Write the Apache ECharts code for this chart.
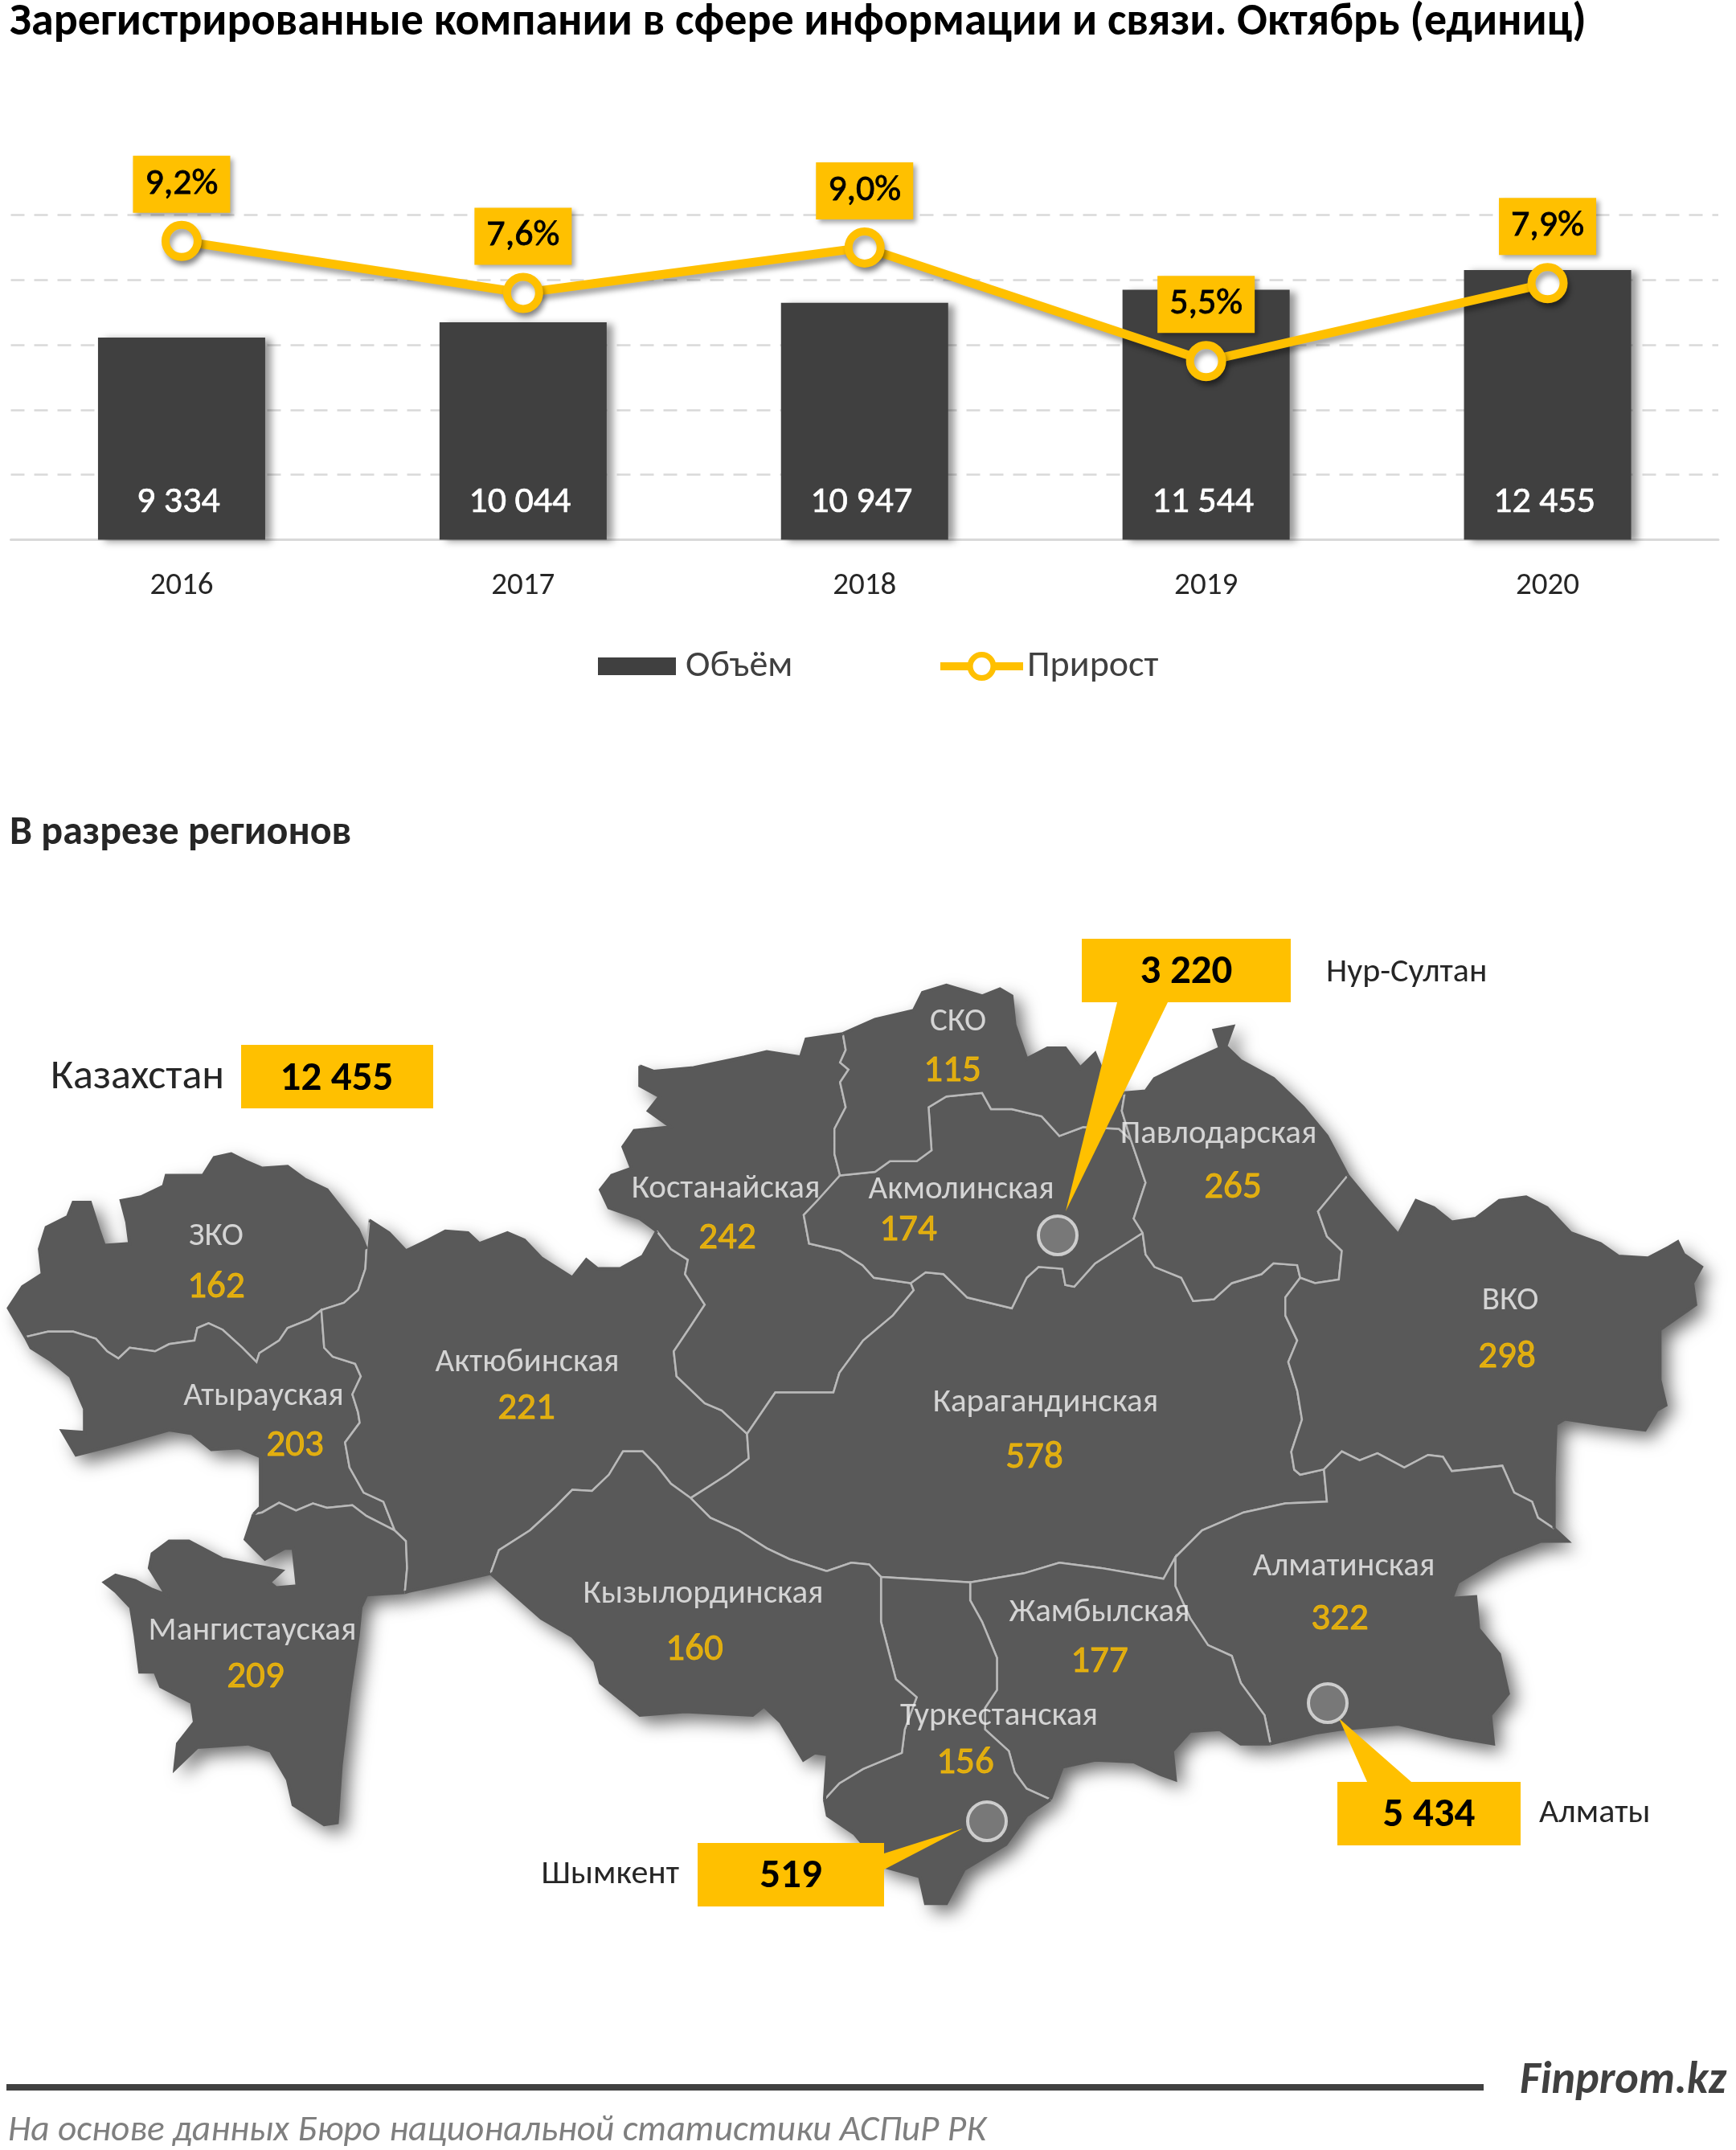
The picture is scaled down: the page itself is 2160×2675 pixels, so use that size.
<!DOCTYPE html>
<html><head><meta charset="utf-8">
<style>html,body{margin:0;padding:0;background:#fff}#c{width:2160px;height:2675px}</style>
<script src="https://cdn.jsdelivr.net/npm/echarts@6/dist/echarts.min.js"></script>
</head><body><div id="c"></div>
<script>
// ---------- data ----------
const years = ['2016','2017','2018','2019','2020'];
const volumes = [9334,10044,10947,11544,12455];
const growth = [9.2,7.6,9.0,5.5,7.9];
const regionNames = ['ЗКО','Костанайская','Актюбинская','Атырауская','Мангистауская','Кызылординская','СКО','Акмолинская','Павлодарская','ВКО','Карагандинская','Алматинская','Жамбылская','Туркестанская'];
const regionValues = [162,242,221,203,209,160,115,174,265,298,578,322,177,156];
const cityNames = ['Нур-Султан','Алматы','Шымкент'];
const cityValues = [3220,5434,519];
const totalName = 'Казахстан';
const totalValue = 12455;

// ---------- label layout (page pixels) ----------
const namePos = [[269,1537],[903,1478],[656,1694],[328,1736],[314,2028],[875,1982],[1192,1270],[1196,1479],[1516,1410],[1879,1617],[1301,1744],[1672,1948],[1368,2005],[1243,2134]];
const valuePos = [[269,1598],[905,1537],[655,1749],[367,1795],[318,2083],[864,2049],[1185,1329],[1130,1527],[1534,1474],[1875,1685],[1287,1810],[1667,2011],[1368,2064],[1201,2190]];
const cityPos = [[1316,1537],[1652,2119],[1228,2266]];

const z3 = a => a.map(p => [p[0]/1.4255, 1150+p[1]/2.24]);
const z5 = a => a.map(p => [p[0]/1.4255, 1750+p[1]/2.24]);
const z4 = a => a.map(p => [1000+p[0]/1.3517, 1150+p[1]/2.24]);
const z6 = a => a.map(p => [1000+p[0]/1.3517, 1750+p[1]/2.24]);
const rev = a => a.slice().reverse();

const C_zko = z3([[45,1150],[15,1070],[40,1010],[75,975],[70,905],[82,845],[120,815],[130,775],[160,775],[175,850],[185,895],[230,890],[225,830],[215,770],[250,760],[290,730],[295,700],[360,700],[380,650],[410,640],[435,660],[465,680],[510,675],[540,710],[580,740],[605,790],[635,850],[650,905]]);
const B_zko_aktobe = z3([[650,905],[648,960],[635,1020],[610,1055],[570,1075]]);
const B_zko_atyrau = z3([[570,1075],[550,1100],[510,1125],[495,1160],[460,1195],[455,1220],[430,1180],[395,1130],[370,1112],[350,1125],[345,1160],[300,1170],[275,1190],[230,1180],[210,1210],[190,1190],[170,1155],[130,1135],[85,1135],[45,1150]]);
const B_atyrau_aktobe = z3([[570,1075],[575,1180],[590,1205],[630,1225],[640,1260],[625,1310],[635,1360],[638,1389],[612,1444],[620,1514],[645,1584],[680,1609],[700,1689]]);
const B_atyrau_mang = z5([[700,345],[650,305],[625,275],[580,282],[555,270],[525,290],[495,268],[465,295],[450,300]]);
const C_atyrau = z5([[450,300],[462,280],[462,140],[425,115],[375,120],[340,75],[300,65],[210,105],[135,135],[110,68],[150,72]]).concat(z3([[150,1350],[125,1260],[90,1215],[55,1180],[45,1150]]));
const B_mang_aktobe = z5([[700,345],[720,375],[722,450],[718,518]]);
const C_mang = z5([[718,518],[650,525],[640,560],[635,640],[620,800],[605,1000],[598,1160],[575,1165],[520,1110],[510,1040],[480,960],[440,940],[350,950],[310,1010],[315,940],[345,880],[340,825],[285,780],[275,740],[248,740],[240,640],[232,560],[205,515],[185,490],[205,470],[240,485],[270,510],[295,525],[265,450],[270,410],[300,375],[335,375],[395,425],[465,447],[500,458],[478,490],[490,505],[527,500],[520,395],[505,395],[470,425],[435,370],[450,300]]);
const C_aktobe_top = z3([[655,825],[690,860],[720,910],[760,880],[790,855],[830,860],[850,890],[900,860],[930,880],[960,930],[1015,985],[1040,935],[1060,960],[1100,960],[1140,925],[1165,855]]);
const B_aktobe_kost = z3([[1165,855],[1190,905],[1220,935],[1215,975],[1250,1060],[1225,1120],[1195,1190],[1200,1260],[1250,1335],[1280,1355],[1325,1420]]);
const B_aktobe_kar = z3([[1325,1420],[1328,1489],[1290,1534],[1225,1599]]);
const B_aktobe_kyz = z5([[1225,255],[1190,215],[1165,165],[1140,125],[1105,125],[1080,190],[1050,235],[1015,232],[985,280],[940,345],[885,400],[870,465]]);
const C_aktobe_south = z5([[870,465],[800,490],[725,515],[718,518]]);
const C_kost_west = z3([[1165,855],[1135,820],[1080,790],[1065,740],[1085,700],[1120,680],[1105,620],[1125,575],[1190,565],[1150,520],[1170,480],[1135,450],[1135,395]]);
const C_kost_top = z3([[1135,395],[1160,410],[1230,400],[1320,370],[1360,355],[1420,370],[1430,320],[1495,305]]);
const B_kost_sko = z3([[1495,305],[1500,350],[1490,385],[1505,405],[1490,440],[1500,510],[1480,570],[1480,640],[1490,700]]);
const B_kost_akm = z4([[61,700],[23,770],[0,810],[9,890],[61,910],[99,950],[118,985],[180,1000]]);
const B_kost_kar = z4([[180,1000],[185,1020],[150,1090],[100,1160],[60,1250],[50,1305]]).concat(z3([[1375,1305],[1325,1420]]));
const B_sko_akm = z4([[61,700],[120,690],[145,660],[190,660],[215,630],[210,510],[240,480],[300,470],[315,515],[350,515],[400,535],[430,590],[470,565],[530,570],[550,600]]);
const C_sko = z3([[1495,305]]).concat(z4([[120,265],[185,240],[200,190],[240,170],[300,200],[330,180],[350,200],[355,280],[375,375],[410,345],[440,345],[465,400],[490,360],[500,400],[530,470],[540,470]]));
const B_sko_pav = z4([[540,470],[535,520],[550,600]]);
const B_akm_pav = z4([[550,600],[575,720],[555,820],[570,860]]);
const B_akm_kar = z4([[570,860],[490,945],[455,1010],[440,1005],[435,960],[395,955],[375,985],[350,1070],[275,1040],[235,975],[205,970],[180,1000]]);
const B_pav_kar = z4([[570,860],[575,920],[590,955],[635,985],[655,1050],[690,1045],[720,1000],[770,975],[790,945],[830,950],[835,985]]);
const B_vko_pav = z4([[835,985],[860,1000],[900,990],[905,910],[880,870],[865,800],[915,700]]);
const C_pav = z4([[915,700],[880,590],[840,510],[790,430],[735,380],[710,340],[722,285],[690,295],[700,345],[640,390],[590,430],[575,465],[540,470]]);
const B_vko_kar = z4([[835,985],[810,1040],[810,1090],[830,1160],[815,1220],[830,1300],[838,1380],[820,1470],[825,1520]]).concat(z6([[835,190],[875,175]]));
const B_vko_alm = z6([[875,175],[905,125],[935,150],[965,130],[1010,170],[1050,135],[1075,140],[1090,180],[1175,165],[1195,240],[1225,265],[1235,310],[1262,340]]);
const C_vko = z6([[1262,340],[1262,200],[1265,50],[1280,35],[1340,50],[1415,65],[1435,10]]).concat(z4([[1450,1340],[1440,1270],[1440,1130],[1500,1060],[1495,1000],[1510,955],[1480,920],[1470,885],[1455,900],[1420,930],[1370,925],[1340,890],[1290,860],[1250,790],[1215,760],[1170,770],[1130,820],[1090,830],[1060,790],[1030,770],[1000,865],[960,790],[915,700]]));
const B_alm_kar = z6([[875,175],[880,265],[810,270],[740,295],[670,345],[625,420]]);
const C_alm = z6([[1262,340],[1285,375],[1240,375],[1170,420],[1100,490],[1090,535],[1130,530],[1135,620],[1170,690],[1185,800],[1155,860],[1160,940],[1090,920],[1000,885],[900,900],[860,910],[785,940]]);
const B_zham_alm = z6([[625,420],[625,500],[650,590],[680,665],[720,695],[735,770],[775,860],[785,940]]);
const B_zham_kar = z6([[625,420],[605,480],[500,450],[430,435],[370,465],[280,490]]);
const C_zham = z6([[785,940],[735,940],[700,900],[650,905],[620,960],[625,1040],[600,1025],[555,990],[490,985],[435,1005],[415,1095]]);
const B_zham_turk = z6([[415,1095],[375,1065],[355,1020],[345,960],[305,900],[305,840],[325,790],[325,700],[300,600],[280,540],[280,490]]);
const B_turk_kar = z6([[280,490],[130,475]]);
const C_turk = z6([[415,1095],[375,1140],[340,1220],[270,1290],[240,1385],[205,1385],[195,1310],[130,1280],[85,1190],[40,1140],[35,1095]]);
const B_kyz_turk = z6([[35,1095],[60,1050],[100,1010],[165,965],[170,900],[190,810],[155,760],[130,600],[130,475]]);
const B_kyz_kar = z6([[130,475],[110,440],[80,435],[40,458]]).concat(z5([[1465,458],[1400,425],[1360,395],[1310,345],[1260,310],[1225,255]]));
const C_kyz = z6([[35,1095],[40,970]]).concat(z5([[1445,965],[1425,985],[1385,880],[1355,835],[1335,860],[1215,850],[1135,860],[1065,770],[1055,710],[1015,640],[960,590],[870,465]]));

const rings = {
 'ЗКО':[...C_zko,...B_zko_aktobe,...B_zko_atyrau],
 'Атырауская':[...rev(B_zko_atyrau),...B_atyrau_aktobe,...B_atyrau_mang,...C_atyrau],
 'Мангистауская':[...rev(B_atyrau_mang),...B_mang_aktobe,...C_mang],
 'Актюбинская':[...C_aktobe_top,...B_aktobe_kost,...B_aktobe_kar,...B_aktobe_kyz,...C_aktobe_south,...rev(B_mang_aktobe),...rev(B_atyrau_aktobe),...rev(B_zko_aktobe)],
 'Костанайская':[...C_kost_west,...C_kost_top,...B_kost_sko,...B_kost_akm,...B_kost_kar,...rev(B_aktobe_kost)],
 'Карагандинская':[...rev(B_kost_kar),...rev(B_akm_kar),...B_pav_kar,...B_vko_kar,...B_alm_kar,...B_zham_kar,...B_turk_kar,...B_kyz_kar,...rev(B_aktobe_kar)],
 'Акмолинская':[...B_sko_akm,...B_akm_pav,...B_akm_kar,...rev(B_kost_akm)],
 'СКО':[...C_sko,...B_sko_pav,...rev(B_sko_akm),...rev(B_kost_sko)],
 'Павлодарская':[...B_sko_pav,...B_akm_pav,...B_pav_kar,...B_vko_pav,...C_pav],
 'ВКО':[...rev(B_vko_pav),...B_vko_kar,...B_vko_alm,...C_vko],
 'Алматинская':[...rev(B_alm_kar),...B_vko_alm,...C_alm,...rev(B_zham_alm)],
 'Жамбылская':[...rev(B_zham_kar),...B_zham_alm,...C_zham,...B_zham_turk],
 'Туркестанская':[...rev(B_turk_kar),...rev(B_zham_turk),...C_turk,...B_kyz_turk],
 'Кызылординская':[...rev(B_kyz_kar),...rev(B_kyz_turk),...C_kyz,...rev(B_aktobe_kyz)]
};
const coast = [C_zko,C_atyrau,C_mang,C_aktobe_top,C_aktobe_south,C_kost_west,C_kost_top,C_sko,C_pav,C_vko,C_alm,C_zham,C_turk,C_kyz];
const geoJson = {type:'FeatureCollection',features:Object.keys(rings).map(n=>{
  const r = rings[n].slice(); r.push(r[0]);
  return {type:'Feature',properties:{name:n},geometry:{type:'Polygon',coordinates:[r]}};
})};
echarts.registerMap('kz', geoJson);
let xs=[],ys=[]; Object.values(rings).forEach(r=>r.forEach(p=>{xs.push(p[0]);ys.push(p[1]);}));
const bx=Math.min(...xs), by=Math.min(...ys), bw=Math.max(...xs)-bx, bh=Math.max(...ys)-by;
const identity={project:p=>[p[0],p[1]],unproject:p=>[p[0],p[1]]};
const mapBox={left:bx,top:by,width:bw,height:bh,projection:identity,aspectScale:1,roam:false,silent:true};

// ---------- helpers ----------
const FONT='Carlito, Calibri, Lato, "Open Sans", sans-serif';
const num = v => String(v).replace(/\B(?=(\d{3})+(?!\d))/g,' ');
const pct = v => v.toFixed(1).replace('.',',')+'%';
const YELLOW='#FFC000', DARK='#404040', LAND='#595959';

// callouts: [box x,y,w,h], tail points
const boxes=[[1346,1168,260,79],[1664,2217,228,79],[868,2293,232,79]];
const tails=[
 [[1390,1247],[1453,1247],[1326,1507]],
 [[1701,2217],[1756,2217],[1666,2138]],
 [[1100,2306],[1100,2326],[1198,2275]]
];
const cityLabelPos=[[1650,1210,'left'],[1915,2256,'left'],[845,2332,'right']];

const graphics=[];
boxes.forEach((b,i)=>{
  graphics.push({type:'polygon',z:50,silent:true,shape:{points:tails[i]},style:{fill:YELLOW}});
  graphics.push({type:'rect',z:50,silent:true,shape:{x:b[0],y:b[1],width:b[2],height:b[3]},style:{fill:YELLOW}});
  graphics.push({type:'text',z:51,silent:true,x:b[0]+b[2]/2,y:b[1]+b[3]/2+3,style:{text:num(cityValues[i]),fill:'#000',font:'bold 51px '+FONT,textAlign:'center',textVerticalAlign:'middle'}});
  const c=cityLabelPos[i];
  graphics.push({type:'text',z:51,silent:true,x:c[0],y:c[1],style:{text:cityNames[i],fill:'#262626',font:'42px '+FONT,textAlign:c[2],textVerticalAlign:'middle'}});
});
graphics.push({type:'rect',z:50,silent:true,shape:{x:300,y:1300,width:239,height:79},style:{fill:YELLOW}});
graphics.push({type:'text',z:51,silent:true,x:419,y:1343,style:{text:num(totalValue),fill:'#000',font:'bold 51px '+FONT,textAlign:'center',textVerticalAlign:'middle'}});
graphics.push({type:'text',z:51,silent:true,x:63,y:1341,style:{text:totalName,fill:'#262626',font:'52px '+FONT,textAlign:'left',textVerticalAlign:'middle'}});
graphics.push({type:'rect',z:5,silent:true,shape:{x:8,y:2593,width:1838,height:8},style:{fill:DARK}});
graphics.push({type:'text',z:5,silent:true,x:12,y:29,style:{text:'Зарегистрированные компании в сфере информации и связи. Октябрь (единиц)',fill:'#000',font:'bold 56px '+FONT,textAlign:'left',textVerticalAlign:'middle'}});
graphics.push({type:'text',z:5,silent:true,x:12,y:1037,style:{text:'В разрезе регионов',fill:'#262626',font:'bold 50px '+FONT,textAlign:'left',textVerticalAlign:'middle'}});
graphics.push({type:'text',z:5,silent:true,x:2148,y:2590,style:{text:'Finprom.kz',fill:DARK,font:'italic bold 56px '+FONT,textAlign:'right',textVerticalAlign:'middle'}});
graphics.push({type:'text',z:5,silent:true,x:10,y:2652,style:{text:'На основе данных Бюро национальной статистики АСПиР РК',fill:'#7f7f7f',font:'italic 45.4px '+FONT,textAlign:'left',textVerticalAlign:'middle'}});

const option={
 backgroundColor:'#fff',
 animation:false,
 textStyle:{fontFamily:FONT},
 grid:{left:13.5,right:22,top:267.5,bottom:2003.5,containLabel:false},
 xAxis:{type:'category',data:years,axisTick:{show:false},
   axisLine:{lineStyle:{color:'#d9d9d9',width:3}},
   axisLabel:{fontSize:39,color:'#262626',margin:38,fontFamily:FONT}},
 yAxis:[
  {type:'value',min:0,max:15000,interval:3000,axisLabel:{show:false},axisLine:{show:false},axisTick:{show:false},
   splitLine:{lineStyle:{color:'#d9d9d9',type:[17,12],width:2.5}}},
  {type:'value',min:0,max:10,interval:2,show:false,splitLine:{show:false}}
 ],
 legend:[
  {data:['Объём'],left:739,top:801,itemWidth:97,itemHeight:22,icon:'rect',textStyle:{fontSize:46,color:'#404040',fontFamily:FONT,padding:[0,0,0,7]}},
  {data:['Прирост'],left:1160,top:801,itemWidth:103,itemHeight:36,lineStyle:{width:10,color:YELLOW},itemStyle:{color:'#fff',borderColor:YELLOW,borderWidth:7},textStyle:{fontSize:46,color:'#404040',fontFamily:FONT}}
 ],
 geo:Object.assign({map:'kz',z:0,zlevel:0,
   itemStyle:{areaColor:LAND,borderWidth:0,borderColor:LAND,shadowColor:'rgba(0,0,0,0.6)',shadowBlur:22,shadowOffsetX:10,shadowOffsetY:10},
   label:{show:false},emphasis:{disabled:true},select:{disabled:true}},mapBox),
 graphic:{elements:graphics},
 series:[
  {name:'Объём',type:'bar',data:volumes,barWidth:208,z:2,
   itemStyle:{color:DARK,shadowColor:'rgba(0,0,0,0.4)',shadowBlur:9,shadowOffsetX:8,shadowOffsetY:2},
   label:{show:true,position:'insideBottom',distance:23,offset:[-4,0],color:'#fff',fontSize:46,fontFamily:FONT,textBorderColor:'#fff',textBorderWidth:0.7,formatter:p=>num(p.value)}},
  {name:'Прирост',type:'line',yAxisIndex:1,data:growth,z:3,symbol:'circle',symbolSize:40,showAllSymbol:true,
   lineStyle:{color:YELLOW,width:11,shadowColor:'rgba(0,0,0,0.35)',shadowBlur:6,shadowOffsetX:3,shadowOffsetY:6},
   itemStyle:{color:'#fff',borderColor:YELLOW,borderWidth:10,shadowColor:'rgba(0,0,0,0.35)',shadowBlur:6,shadowOffsetX:3,shadowOffsetY:6},
   label:{show:true,position:'top',distance:10,color:'#000',fontSize:46,fontFamily:FONT,textBorderColor:'#000',textBorderWidth:0.8,width:121,height:71,lineHeight:71,align:'center',backgroundColor:YELLOW,
     shadowColor:'rgba(0,0,0,0.35)',shadowBlur:6,shadowOffsetX:4,shadowOffsetY:4,formatter:p=>pct(p.value)}},
  Object.assign({name:'Регионы',type:'map',map:'kz',z:2,showLegendSymbol:false,
    data:regionNames.map((n,i)=>({name:n,value:regionValues[i]})),
    itemStyle:{areaColor:LAND,borderColor:'#b9b9b9',borderWidth:2.5},
    label:{show:false},emphasis:{disabled:true},select:{disabled:true}},mapBox),
  {name:'Берег',type:'lines',coordinateSystem:'geo',geoIndex:0,polyline:true,z:4,silent:true,
   data:coast.map(c=>({coords:c})),lineStyle:{color:LAND,width:4,opacity:1,curveness:0}},
  {name:'Регион',type:'scatter',coordinateSystem:'geo',geoIndex:0,z:10,silent:true,symbolSize:1,itemStyle:{color:'rgba(0,0,0,0)'},
   data:regionNames.map((n,i)=>({name:n,value:namePos[i]})),
   label:{show:true,position:'inside',offset:[0,2],color:'#f2f2f2',fontSize:41,fontFamily:FONT,formatter:p=>p.name}},
  {name:'Значение',type:'scatter',coordinateSystem:'geo',geoIndex:0,z:10,silent:true,symbolSize:1,itemStyle:{color:'rgba(0,0,0,0)'},
   data:regionValues.map((v,i)=>({name:regionNames[i],value:valuePos[i].concat(v)})),
   label:{show:true,position:'inside',offset:[0,4],color:YELLOW,fontSize:47,fontFamily:FONT,textBorderColor:YELLOW,textBorderWidth:0.9,formatter:p=>num(p.value[2])}},
  {name:'Города',type:'scatter',coordinateSystem:'geo',geoIndex:0,z:60,silent:true,symbol:'circle',symbolSize:48,
   data:cityNames.map((n,i)=>({name:n,value:cityPos[i]})),
   itemStyle:{color:'#808080',borderColor:'#e6e6e6',borderWidth:4},label:{show:false}}
 ]
};
const chart=echarts.init(document.getElementById('c'),null,{renderer:'canvas',width:2160,height:2675});
chart.setOption(option);
</script></body></html>
